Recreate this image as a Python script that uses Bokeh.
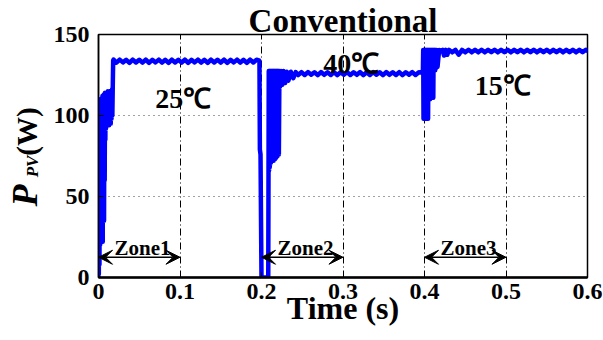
import math
from bokeh.plotting import figure
from bokeh.layouts import row
from bokeh.models import Range1d, FixedTicker, Label, Arrow, VeeHead
from bokeh.core.properties import value
from bokeh.embed import file_html
from bokeh.resources import INLINE

# ---------------- data ----------------
x_ticks = [0.0, 0.1, 0.2, 0.3, 0.4, 0.5, 0.6]
x_tick_labels = ["0", "0.1", "0.2", "0.3", "0.4", "0.5", "0.6"]
y_ticks = [0, 50, 100, 150]
y_tick_labels = ["0", "50", "100", "150"]

startup_t = [0.0000, 0.0000, 0.0004, 0.0008, 0.0012, 0.0016, 0.0020, 0.0024, 0.0028, 0.0032,
             0.0036, 0.0040, 0.0044, 0.0048, 0.0052, 0.0056, 0.0060, 0.0064, 0.0068, 0.0072,
             0.0076, 0.0080, 0.0084, 0.0088, 0.0092, 0.0096, 0.0100, 0.0105, 0.0110, 0.0115,
             0.0120, 0.0125, 0.0130, 0.0135, 0.0140, 0.0145, 0.0150, 0.0155, 0.0160, 0.0165,
             0.0170, 0.0175, 0.0180]
startup_p = [0.0, 109.0, 2.0, 110.0, 8.0, 104.0, 20.0, 100.0, 24.0, 106.0,
             26.0, 110.0, 30.0, 112.0, 22.0, 108.0, 40.0, 113.0, 35.0, 112.0,
             60.0, 114.0, 85.0, 113.0, 92.0, 114.0, 95.0, 114.0, 94.0, 115.0,
             95.0, 114.0, 94.0, 115.0, 96.0, 115.0, 95.0, 115.0, 98.0, 116.0,
             100.0, 118.0, 134.0]

steady25_t = [0.0185, 0.022, 0.026, 0.030, 0.034, 0.038, 0.042, 0.046, 0.050, 0.054,
              0.058, 0.062, 0.066, 0.070, 0.074, 0.078, 0.082, 0.086, 0.090, 0.094,
              0.098, 0.102, 0.106, 0.110, 0.114, 0.118, 0.122, 0.126, 0.130, 0.134,
              0.138, 0.142, 0.146, 0.150, 0.154, 0.158, 0.162, 0.166, 0.170, 0.174,
              0.178, 0.182, 0.186, 0.190, 0.194, 0.197]
steady25_p = [134.5, 132.6, 134.5, 132.8, 134.4, 132.5, 134.5, 132.7, 134.4, 132.6,
              134.5, 132.5, 134.4, 132.8, 134.5, 132.6, 134.4, 132.5, 134.5, 132.7,
              134.4, 132.6, 134.5, 132.5, 134.4, 132.8, 134.5, 132.6, 134.4, 132.5,
              134.5, 132.7, 134.4, 132.6, 134.5, 132.5, 134.4, 132.8, 134.5, 132.6,
              134.4, 132.5, 134.5, 132.7, 134.4, 134.0]

drop_t = [0.1975, 0.1980, 0.1988, 0.1995, 0.2000, 0.2040, 0.2083, 0.2086]
drop_p = [133.0, 79.0, 76.0, 30.0, 0.0, 0.0, 0.0, 64.0]

recover_t = [0.2089, 0.2093, 0.2097, 0.2101, 0.2105, 0.2109, 0.2113, 0.2117, 0.2121, 0.2125,
             0.2129, 0.2133, 0.2137, 0.2141, 0.2145, 0.2149, 0.2153, 0.2157, 0.2161, 0.2165,
             0.2169, 0.2173, 0.2177, 0.2181, 0.2185, 0.2189, 0.2193, 0.2197, 0.2201, 0.2205,
             0.2209, 0.2213, 0.2220, 0.2230, 0.2240, 0.2255, 0.2270, 0.2290, 0.2310, 0.2330,
             0.2360, 0.2390, 0.2420, 0.2450]
recover_p = [127.5, 66.0, 127.5, 68.0, 127.5, 70.0, 127.5, 71.0, 127.5, 72.0,
             127.5, 72.0, 127.5, 73.0, 127.5, 72.0, 127.5, 74.0, 127.5, 73.0,
             127.5, 75.0, 127.5, 74.0, 127.5, 76.0, 127.5, 75.0, 127.5, 77.0,
             127.5, 76.0, 127.5, 118.0, 127.5, 119.0, 127.5, 120.0, 127.0, 121.5,
             127.0, 123.0, 126.8, 125.0]

steady40_t = [0.249, 0.253, 0.257, 0.261, 0.265, 0.269, 0.273, 0.277, 0.281, 0.285,
              0.289, 0.293, 0.297, 0.301, 0.305, 0.309, 0.313, 0.317, 0.321, 0.325,
              0.329, 0.333, 0.337, 0.341, 0.345, 0.349, 0.353, 0.357, 0.361, 0.365,
              0.369, 0.373, 0.377, 0.381, 0.385, 0.389, 0.393, 0.397]
steady40_p = [126.8, 125.0, 126.8, 125.2, 126.7, 124.9, 126.8, 125.1, 126.7, 125.0,
              126.8, 124.9, 126.7, 125.2, 126.8, 125.0, 126.7, 125.1, 126.8, 124.9,
              126.7, 125.0, 126.8, 125.2, 126.7, 124.9, 126.8, 125.1, 126.7, 125.0,
              126.8, 124.9, 126.7, 125.2, 126.8, 125.0, 126.7, 126.5]

step_t = [0.3980, 0.3984, 0.3988, 0.3992, 0.3996, 0.4000, 0.4004, 0.4008, 0.4012, 0.4016,
          0.4020, 0.4024, 0.4028, 0.4032, 0.4036, 0.4040, 0.4044, 0.4048, 0.4052, 0.4056,
          0.4060, 0.4064, 0.4068, 0.4072, 0.4076, 0.4080, 0.4084, 0.4088, 0.4092, 0.4096,
          0.4100, 0.4104, 0.4108, 0.4112, 0.4116, 0.4120, 0.4124, 0.4128, 0.4132, 0.4136,
          0.4140, 0.4150, 0.4160, 0.4180, 0.4200, 0.4220, 0.4240, 0.4260]
step_p = [126.5, 140.5, 98.0, 140.5, 98.0, 140.5, 99.0, 140.5, 98.0, 140.5,
          100.0, 140.5, 99.0, 140.5, 100.0, 140.5, 98.0, 140.5, 110.0, 140.5,
          111.0, 140.5, 110.0, 140.5, 111.0, 140.5, 112.0, 140.5, 111.0, 140.5,
          112.0, 140.5, 111.0, 140.5, 128.0, 140.5, 129.0, 140.5, 128.0, 140.5,
          129.0, 140.5, 130.0, 140.5, 140.0, 140.5, 137.0, 140.5]

steady15_t = [0.428, 0.430, 0.434, 0.438, 0.442, 0.446, 0.450, 0.454, 0.458, 0.462,
              0.466, 0.470, 0.474, 0.478, 0.482, 0.486, 0.490, 0.494, 0.498, 0.502,
              0.506, 0.510, 0.514, 0.518, 0.522, 0.526, 0.530, 0.534, 0.538, 0.542,
              0.546, 0.550, 0.554, 0.558, 0.562, 0.566, 0.570, 0.574, 0.578, 0.582,
              0.586, 0.590, 0.594, 0.598, 0.600]
steady15_p = [137.5, 140.5, 139.0, 140.5, 137.5, 140.5, 139.0, 140.6, 139.0, 140.5,
              139.0, 140.6, 139.0, 140.5, 139.1, 140.6, 139.0, 140.5, 139.1, 140.6,
              139.0, 140.5, 139.1, 140.6, 139.0, 140.5, 139.1, 140.6, 139.0, 140.5,
              139.1, 140.6, 139.0, 140.5, 139.1, 140.6, 139.0, 140.5, 139.1, 140.6,
              139.0, 140.5, 139.1, 140.6, 140.0]

zone_names = ["Zone1", "Zone2", "Zone3"]
zone_start = [0.0, 0.2, 0.4]
zone_end = [0.1, 0.3, 0.5]

temp_labels = ["25℃", "40℃", "15℃"]
temp_t = [0.104, 0.310, 0.496]
temp_p = [110.5, 132.0, 118.5]

title_text = "Conventional"
x_label = "Time (s)"
y_label_parts = ["P", "PV", "(W)"]

time = startup_t + steady25_t + drop_t + recover_t + steady40_t + step_t + steady15_t
power = startup_p + steady25_p + drop_p + recover_p + steady40_p + step_p + steady15_p

SERIF = "Liberation Serif"
H = 340
FRAME_TOP, FRAME_BOTTOM = 34, 277

# ---------------- y-label strip ----------------
LEFT_W = 50
# the strip's frame lines up with the main frame; its data y = pixels from the canvas bottom
ylab = figure(width=LEFT_W, height=H, output_backend="svg", toolbar_location=None,
              x_axis_type=None, y_axis_type=None,
              x_range=Range1d(0, LEFT_W), y_range=Range1d(H - FRAME_BOTTOM, H - FRAME_TOP),
              min_border=0, min_border_left=0, min_border_right=0,
              min_border_top=FRAME_TOP, min_border_bottom=H - FRAME_BOTTOM)
ylab.outline_line_color = None
ylab.background_fill_color = "white"
ylab.border_fill_color = "white"
ylab.text(x=[24], y=[H - 195], text=[y_label_parts[0]], angle=math.pi / 2,
          text_font=value(SERIF), text_font_style="bold italic", text_font_size="36px",
          text_align="center", text_baseline="middle", text_color="black")
ylab.text(x=[32], y=[H - 166], text=[y_label_parts[1]], angle=math.pi / 2,
          text_font=value(SERIF), text_font_style="bold italic", text_font_size="17px",
          text_align="center", text_baseline="middle", text_color="black")
ylab.text(x=[26], y=[H - 131], text=[y_label_parts[2]], angle=math.pi / 2,
          text_font=value(SERIF), text_font_style="bold", text_font_size="29px",
          text_align="center", text_baseline="middle", text_color="black")

# ---------------- main figure ----------------
p = figure(width=603 - LEFT_W, height=H, output_backend="svg", toolbar_location=None,
           x_range=Range1d(0, 0.6), y_range=Range1d(0, 150),
           min_border_left=97 - LEFT_W, min_border_right=16, min_border_top=FRAME_TOP,
           min_border_bottom=H - FRAME_BOTTOM)
p.background_fill_color = "white"
p.border_fill_color = "white"
p.outline_line_color = "black"
p.outline_line_width = 1.5

p.title.text = title_text
p.title.align = "center"
p.title.text_font = SERIF
p.title.text_font_style = "bold"
p.title.text_font_size = "33px"
p.title.text_color = "black"
p.title.standoff = -9

p.line(time, power, line_color="#0000ff", line_width=4.5, line_join="round", line_cap="round")

# grids
p.xgrid.ticker = FixedTicker(ticks=x_ticks)
p.ygrid.ticker = FixedTicker(ticks=y_ticks)
p.xgrid.grid_line_color = "black"
p.xgrid.grid_line_dash = "7 3 1 3"
p.xgrid.grid_line_width = 1
p.ygrid.grid_line_color = "#444444"
p.ygrid.grid_line_dash = "1 4"
p.ygrid.grid_line_width = 1

# axes
for ax, ticks, labels in ((p.xaxis[0], x_ticks, x_tick_labels), (p.yaxis[0], y_ticks, y_tick_labels)):
    ax.ticker = FixedTicker(ticks=ticks)
    ax.major_label_overrides = dict(zip(ticks, labels))
    ax.major_label_text_font = SERIF
    ax.major_label_text_font_style = "bold"
    ax.major_label_text_font_size = "24px"
    ax.major_label_text_color = "black"
    ax.axis_line_color = "black"
    ax.major_tick_in = 5
    ax.major_tick_out = 0
    ax.minor_tick_in = 0
    ax.minor_tick_out = 0
    ax.major_tick_line_color = "black"
p.xaxis.axis_line_width = 2.5
p.yaxis.axis_line_width = 1.5
p.xaxis.major_label_standoff = 6
p.yaxis.major_label_standoff = 9

p.xaxis.axis_label = x_label
p.xaxis.axis_label_text_font = SERIF
p.xaxis.axis_label_text_font_style = "bold"
p.xaxis.axis_label_text_font_size = "32px"
p.xaxis.axis_label_text_color = "black"
p.xaxis.axis_label_standoff = -12

# temperatures
for lab, tt, pp in zip(temp_labels, temp_t, temp_p):
    p.add_layout(Label(x=tt, y=pp, text=lab, text_font=SERIF, text_font_style="bold",
                       text_font_size="28px", text_align="center", text_baseline="alphabetic",
                       text_color="black"))

# zones
for name, t0, t1 in zip(zone_names, zone_start, zone_end):
    p.add_layout(Arrow(x_start=t0, y_start=12.5, x_end=t1, y_end=12.5, line_width=1.5,
                       line_color="black",
                       start=VeeHead(size=14, fill_color="black", line_color="black", line_width=1),
                       end=VeeHead(size=14, fill_color="black", line_color="black", line_width=1)))
    p.add_layout(Label(x=t0 + 0.054, y=18.5, text=name, text_font=SERIF, text_font_style="bold",
                       text_font_size="21px", text_align="center", text_baseline="alphabetic",
                       text_color="black"))

layout = row(ylab, p, spacing=0)
open("out.html", "w").write(file_html(layout, INLINE))
